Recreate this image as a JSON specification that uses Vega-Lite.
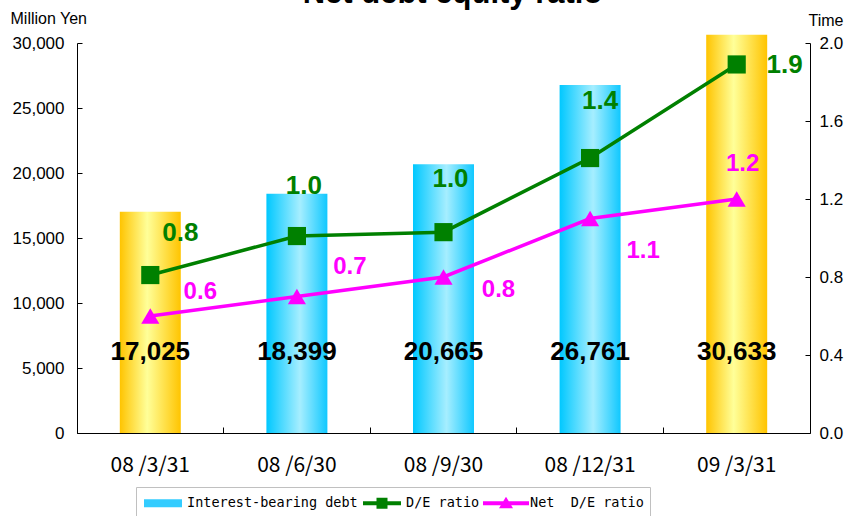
{
  "$schema": "https://vega.github.io/schema/vega-lite/v6.json",
  "width": 733,
  "height": 390,
  "autosize": {"type": "none"},
  "padding": {"left": 77, "top": 43, "right": 46, "bottom": 83},
  "background": "white",
  "config": {"view": {"stroke": null}, "font": "Liberation Sans"},
  "title": {
    "text": "Net debt equity ratio",
    "font": "Liberation Sans",
    "fontSize": 31,
    "fontWeight": "bold",
    "color": "black",
    "anchor": "middle",
    "baseline": "alphabetic",
    "dx": 9,
    "dy": 27,
    "offset": 3
  },
  "datasets": {
    "debt": [
      {"date": "08 /3/31", "debt": 17025},
      {"date": "08 /6/30", "debt": 18399},
      {"date": "08 /9/30", "debt": 20665},
      {"date": "08 /12/31", "debt": 26761},
      {"date": "09 /3/31", "debt": 30633}
    ],
    "ratio": [
      {"date": "08 /3/31", "series": "D/E ratio", "value": 0.81},
      {"date": "08 /6/30", "series": "D/E ratio", "value": 1.01},
      {"date": "08 /9/30", "series": "D/E ratio", "value": 1.03},
      {"date": "08 /12/31", "series": "D/E ratio", "value": 1.41},
      {"date": "09 /3/31", "series": "D/E ratio", "value": 1.89},
      {"date": "08 /3/31", "series": "Net  D/E ratio", "value": 0.6},
      {"date": "08 /6/30", "series": "Net  D/E ratio", "value": 0.7},
      {"date": "08 /9/30", "series": "Net  D/E ratio", "value": 0.8},
      {"date": "08 /12/31", "series": "Net  D/E ratio", "value": 1.1},
      {"date": "09 /3/31", "series": "Net  D/E ratio", "value": 1.2}
    ]
  },
  "encoding": {
    "x": {
      "field": "date",
      "type": "nominal",
      "sort": ["08 /3/31", "08 /6/30", "08 /9/30", "08 /12/31", "09 /3/31"],
      "scale": {"paddingInner": 0, "paddingOuter": 0},
      "axis": {
        "title": null,
        "labelAngle": 0,
        "labelFont": "Noto Sans CJK JP",
        "labelFontSize": 21,
        "labelColor": "black",
        "labelPadding": 27,
        "bandPosition": 0,
        "tickSize": -6,
        "tickColor": "black",
        "domainColor": "black",
        "grid": false
      }
    }
  },
  "layer": [
    {
      "data": {"name": "debt"},
      "encoding": {
        "y": {
          "field": "debt",
          "type": "quantitative",
          "scale": {"domain": [0, 30000], "nice": false},
          "axis": {
            "values": [0, 5000, 10000, 15000, 20000, 25000, 30000],
            "format": ",d",
            "title": "Million Yen",
            "titleAngle": 0,
            "titleAlign": "left",
            "titleBaseline": "middle",
            "titleX": -67,
            "titleY": -25,
            "titleFontSize": 16,
            "titleFontWeight": "normal",
            "titleColor": "black",
            "labelFontSize": 17,
            "labelColor": "black",
            "labelPadding": 18,
            "tickSize": -5,
            "tickColor": "black",
            "domainColor": "black",
            "grid": false
          }
        }
      },
      "layer": [
        {
          "transform": [{"filter": {"field": "date", "oneOf": ["08 /3/31", "09 /3/31"]}}],
          "mark": {
            "type": "bar",
            "width": {"band": 0.416},
            "fill": {
              "gradient": "linear", "x1": 0, "y1": 0, "x2": 1, "y2": 0,
              "stops": [
                {"offset": 0, "color": "#FFC400"},
                {"offset": 0.45, "color": "#FFFF99"},
                {"offset": 1, "color": "#FFC400"}
              ]
            }
          }
        },
        {
          "transform": [{"filter": {"not": {"field": "date", "oneOf": ["08 /3/31", "09 /3/31"]}}}],
          "mark": {
            "type": "bar",
            "width": {"band": 0.416},
            "fill": {
              "gradient": "linear", "x1": 0, "y1": 0, "x2": 1, "y2": 0,
              "stops": [
                {"offset": 0, "color": "#00C8FF"},
                {"offset": 0.55, "color": "#A6EEFF"},
                {"offset": 1, "color": "#10C8FF"}
              ]
            }
          }
        },
        {
          "mark": {"type": "text", "font": "Liberation Sans", "fontSize": 26, "fontWeight": "bold", "color": "black", "baseline": "middle"},
          "encoding": {
            "y": {"datum": 6200},
            "text": {"field": "debt", "format": ",d"}
          }
        }
      ]
    },
    {
      "data": {"name": "ratio"},
      "encoding": {
        "y": {
          "field": "value",
          "type": "quantitative",
          "scale": {"domain": [0, 2], "nice": false},
          "axis": {
            "orient": "right",
            "values": [0, 0.4, 0.8, 1.2, 1.6, 2.0],
            "format": ".1f",
            "title": "Time",
            "titleAngle": 0,
            "titleAlign": "left",
            "titleBaseline": "middle",
            "titleX": -2,
            "titleY": -23,
            "titleFontSize": 16,
            "titleFontWeight": "normal",
            "titleColor": "black",
            "labelFontSize": 17,
            "labelColor": "black",
            "labelPadding": 14,
            "tickSize": -5,
            "tickColor": "black",
            "domainColor": "black",
            "grid": false
          }
        }
      },
      "layer": [
        {
          "mark": {"type": "line", "strokeWidth": 3.5},
          "encoding": {
            "color": {
              "field": "series",
              "type": "nominal",
              "scale": {
                "domain": ["Interest-bearing debt", "D/E ratio", "Net  D/E ratio"],
                "range": ["#33CCFF", "#008000", "#FF00FF"]
              },
              "legend": {
                "orient": "none",
                "legendX": 59,
                "legendY": 444,
                "direction": "horizontal",
                "title": null,
                "strokeColor": "#C0C0C0",
                "fillColor": "white",
                "padding": 6,
                "symbolSize": 400,
                "symbolOffset": 11,
                "labelOffset": 14,
                "columnPadding": 3,
                "labelLimit": 400,
                "labelExpr": "replace(datum.label, '  ', '\u00a0 ')",
                "labelFont": "DejaVu Sans Mono",
                "labelFontSize": 13.5,
                "labelColor": "black",
                "symbolStrokeWidth": 0,
                "encode": {
                  "symbols": {
                    "update": {
                      "shape": {"signal": "datum.value === 'Interest-bearing debt' ? 'M-1.9,-0.4H1.9V0.4H-1.9Z' : datum.value === 'D/E ratio' ? 'M-1.9,-0.2H1.9V0.2H-1.9ZM-0.55,-0.55H0.55V0.55H-0.55Z' : 'M-2.3,-0.2H2.3V0.2H-2.3ZM0,-0.65L0.7,0.5H-0.7Z'"},
                      "fill": {"signal": "datum.value === 'Interest-bearing debt' ? {gradient: 'linear', x1: 0, y1: 0, x2: 1, y2: 0, stops: [{offset: 0, color: '#00C8FF'}, {offset: 0.6, color: '#A6EEFF'}, {offset: 1, color: '#33CCFF'}]} : datum.value === 'D/E ratio' ? '#008000' : '#FF00FF'"},
                      "stroke": {"value": "transparent"},
                      "strokeWidth": {"value": 0},
                      "opacity": {"value": 1}
                    }
                  }
                }
              }
            }
          }
        },
        {
          "mark": {"type": "point", "filled": true, "size": 330, "opacity": 1},
          "encoding": {
            "color": {"field": "series", "type": "nominal"},
            "shape": {
              "field": "series",
              "type": "nominal",
              "scale": {"domain": ["D/E ratio", "Net  D/E ratio"], "range": ["square", "triangle-up"]},
              "legend": null
            }
          }
        },
        {
          "encoding": {"text": {"field": "value", "format": ".1f"}},
          "layer": [
            {"transform": [{"filter": "datum.series === 'D/E ratio' && datum.date === '08 /3/31'"}],
             "mark": {"type": "text", "color": "#008000", "fontSize": 26, "fontWeight": "bold", "baseline": "middle", "dx": 30, "dy": -42}},
            {"transform": [{"filter": "datum.series === 'D/E ratio' && datum.date === '08 /6/30'"}],
             "mark": {"type": "text", "color": "#008000", "fontSize": 26, "fontWeight": "bold", "baseline": "middle", "dx": 7, "dy": -50}},
            {"transform": [{"filter": "datum.series === 'D/E ratio' && datum.date === '08 /9/30'"}],
             "mark": {"type": "text", "color": "#008000", "fontSize": 26, "fontWeight": "bold", "baseline": "middle", "dx": 7, "dy": -53}},
            {"transform": [{"filter": "datum.series === 'D/E ratio' && datum.date === '08 /12/31'"}],
             "mark": {"type": "text", "color": "#008000", "fontSize": 26, "fontWeight": "bold", "baseline": "middle", "dx": 10, "dy": -57}},
            {"transform": [{"filter": "datum.series === 'D/E ratio' && datum.date === '09 /3/31'"}],
             "mark": {"type": "text", "color": "#008000", "fontSize": 26, "fontWeight": "bold", "baseline": "middle", "dx": 48, "dy": 1}},
            {"transform": [{"filter": "datum.series === 'Net  D/E ratio' && datum.date === '08 /3/31'"}],
             "mark": {"type": "text", "color": "#FF00FF", "fontSize": 24, "fontWeight": "bold", "baseline": "middle", "dx": 50, "dy": -24}},
            {"transform": [{"filter": "datum.series === 'Net  D/E ratio' && datum.date === '08 /6/30'"}],
             "mark": {"type": "text", "color": "#FF00FF", "fontSize": 24, "fontWeight": "bold", "baseline": "middle", "dx": 53, "dy": -30}},
            {"transform": [{"filter": "datum.series === 'Net  D/E ratio' && datum.date === '08 /9/30'"}],
             "mark": {"type": "text", "color": "#FF00FF", "fontSize": 24, "fontWeight": "bold", "baseline": "middle", "dx": 55, "dy": 13}},
            {"transform": [{"filter": "datum.series === 'Net  D/E ratio' && datum.date === '08 /12/31'"}],
             "mark": {"type": "text", "color": "#FF00FF", "fontSize": 24, "fontWeight": "bold", "baseline": "middle", "dx": 53, "dy": 32}},
            {"transform": [{"filter": "datum.series === 'Net  D/E ratio' && datum.date === '09 /3/31'"}],
             "mark": {"type": "text", "color": "#FF00FF", "fontSize": 24, "fontWeight": "bold", "baseline": "middle", "dx": 6, "dy": -35}}
          ]
        }
      ]
    }
  ],
  "resolve": {"scale": {"y": "independent"}}
}
